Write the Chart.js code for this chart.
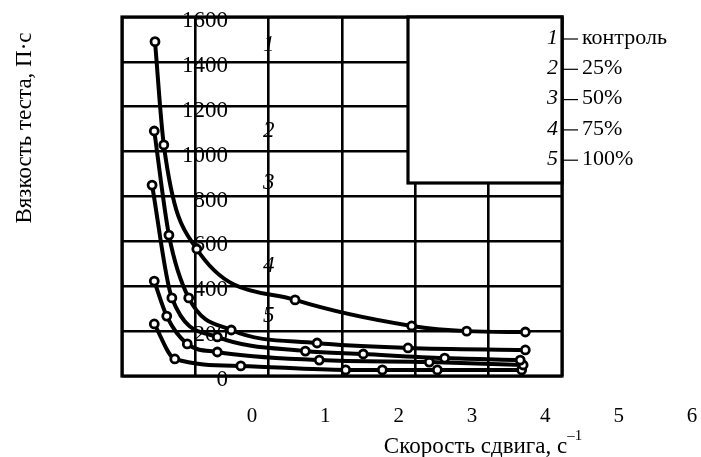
<!DOCTYPE html>
<html><head><meta charset="utf-8">
<script src="https://cdn.jsdelivr.net/npm/chart.js@4"></script>
<style>html,body{margin:0;padding:0;background:#fff}canvas{display:block}</style>
</head><body>
<canvas id="c" width="701" height="457"></canvas>
<script>
// ---- data ----
const xTickLabels = ['0','1','2','3','4','5','6'];
const yTickLabels = ['0','200','400','600','800','1000','1200','1400','1600'];
const seriesNumbers = ['1','2','3','4','5'];
const legendLabels = ['контроль','25%','50%','75%','100%'];

const curve1X = [0.45, 0.57, 1.02, 2.36, 3.95, 4.70, 5.50];
const curve1Y = [1490, 1030, 566, 339, 223, 200, 196];
const curve2X = [0.44, 0.64, 0.91, 1.49, 2.66, 3.90, 5.50];
const curve2Y = [1092, 628, 348, 205, 147, 125, 116];
const curve3X = [0.41, 0.68, 1.30, 2.50, 3.29, 4.40, 5.43];
const curve3Y = [851, 348, 174, 111, 98, 80, 71];
const curve4X = [0.44, 0.61, 0.89, 1.30, 2.69, 4.19, 5.47];
const curve4Y = [423, 267, 143, 107, 71, 62, 49];
const curve5X = [0.44, 0.72, 1.62, 3.05, 3.55, 4.30, 5.45];
const curve5Y = [232, 76, 45, 27, 27, 27, 27];

// in-plot curve number labels (value positions)
const curveLabelX = [2, 2, 2, 2, 2];
const curveLabelY = [1475, 1092, 860, 490, 267];

const yTitle = 'Вязкость теста, П·с';
const xTitle = 'Скорость сдвига, с';
const xTitleSup = '–1';

// ---- build ----
const FAM = '"Liberation Serif"';
const allX = [curve1X, curve2X, curve3X, curve4X, curve5X];
const allY = [curve1Y, curve2Y, curve3Y, curve4Y, curve5Y];
const datasets = allX.map((xs, i) => ({
  label: seriesNumbers[i],
  data: xs.map((x, j) => ({x: x, y: allY[i][j]})),
  borderColor: '#000',
  borderWidth: 4,
  cubicInterpolationMode: 'monotone',
  pointRadius: 4,
  pointBorderWidth: 2.8,
  pointBackgroundColor: '#fff',
  pointBorderColor: '#000',
  fill: false
}));

const yFontSize = 23;
const mctx = document.createElement('canvas').getContext('2d');
mctx.font = 'normal normal ' + yFontSize + 'px ' + FAM;
const widest = Math.max(...yTickLabels.map(t => mctx.measureText(t).width));

const overlay = {
  id: 'overlay',
  afterDraw(chart) {
    const ctx = chart.ctx;
    const a = chart.chartArea;
    const xs = chart.scales.x, ys = chart.scales.y;
    ctx.save();
    // frame
    ctx.strokeStyle = '#000';
    ctx.lineWidth = 3.2;
    ctx.strokeRect(a.left, a.top, a.right - a.left, a.bottom - a.top);
    // legend box
    const bx = 408, by = a.top, bw = a.right - 408, bh = 183 - a.top;
    ctx.fillStyle = '#fff';
    ctx.fillRect(bx, by, bw, bh);
    ctx.lineWidth = 3.2;
    ctx.strokeRect(bx, by, bw, bh);
    // legend entries
    ctx.fillStyle = '#000';
    ctx.textBaseline = 'middle';
    for (let i = 0; i < seriesNumbers.length; i++) {
      const yy = 38 + 30.3 * i;
      ctx.font = 'italic 22px ' + FAM;
      ctx.textAlign = 'right';
      ctx.fillText(seriesNumbers[i], 558, yy);
      ctx.lineWidth = 1.2;
      ctx.beginPath();
      ctx.moveTo(563, yy + 1);
      ctx.lineTo(578, yy + 1);
      ctx.stroke();
      ctx.font = '22px ' + FAM;
      ctx.textAlign = 'left';
      ctx.fillText(legendLabels[i], 582, yy);
    }
    // curve labels
    ctx.font = 'italic 23px ' + FAM;
    ctx.textAlign = 'center';
    for (let i = 0; i < seriesNumbers.length; i++) {
      ctx.fillText(seriesNumbers[i], xs.getPixelForValue(curveLabelX[i]), ys.getPixelForValue(curveLabelY[i]));
    }
    // y title
    ctx.save();
    ctx.translate(25, 128);
    ctx.rotate(-Math.PI / 2);
    ctx.font = '23px ' + FAM;
    ctx.textAlign = 'center';
    ctx.fillText(yTitle, 0, 0);
    ctx.restore();
    // x title
    ctx.font = '23px ' + FAM;
    const w1 = ctx.measureText(xTitle).width;
    ctx.font = '15px ' + FAM;
    const w2 = ctx.measureText(xTitleSup).width;
    const x0 = 483 - (w1 + w2) / 2;
    ctx.textAlign = 'left';
    ctx.font = '23px ' + FAM;
    ctx.fillText(xTitle, x0, 447);
    ctx.font = '15px ' + FAM;
    ctx.fillText(xTitleSup, x0 + w1, 436);
    ctx.restore();
  }
};

new Chart(document.getElementById('c'), {
  type: 'line',
  data: { datasets },
  options: {
    responsive: false,
    animation: false,
    devicePixelRatio: 1,
    layout: { padding: { left: 122, top: 17, right: 139, bottom: 0 } },
    plugins: { legend: { display: false }, tooltip: { enabled: false }, title: { display: false } },
    scales: {
      x: {
        type: 'linear', min: 0, max: 6,
        afterFit: s => { s.height = 81; s.paddingLeft = 0; s.paddingRight = 0; },
        grid: { color: '#000', lineWidth: 2.6, drawTicks: false },
        border: { display: false },
        ticks: {
          stepSize: 1, maxRotation: 0, autoSkip: false,
          labelOffset: 130, padding: 28,
          color: '#000', font: { family: 'Liberation Serif', size: 21 },
          callback: (v) => xTickLabels[Math.round(v)]
        }
      },
      y: {
        type: 'linear', min: 0, max: 1600,
        afterFit: s => { s.width = 0; s.paddingTop = 0; s.paddingBottom = 0; },
        grid: { color: '#000', lineWidth: 2.6, drawTicks: false },
        border: { display: false },
        ticks: {
          stepSize: 200, mirror: true, crossAlign: 'far',
          padding: 106 - widest, labelOffset: 4,
          color: '#000', font: { family: 'Liberation Serif', size: yFontSize },
          callback: (v) => yTickLabels[Math.round(v / 200)]
        }
      }
    }
  },
  plugins: [overlay]
});
</script>
</body></html>
